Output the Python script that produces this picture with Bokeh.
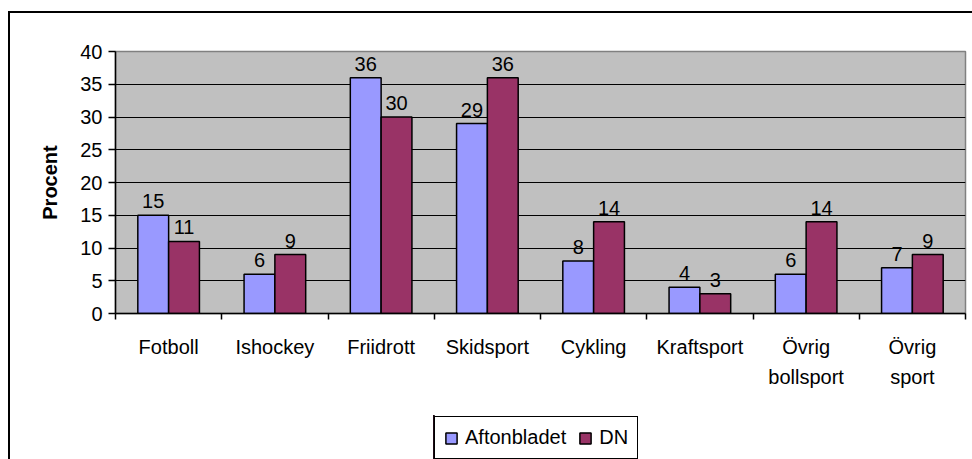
from bokeh.plotting import figure
from bokeh.layouts import column
from bokeh.models import ColumnDataSource, FixedTicker, LabelSet, Legend, LegendItem, Range1d
from bokeh.core.properties import value
from bokeh.transform import dodge
from bokeh.embed import file_html
from bokeh.resources import INLINE

categories = ["Fotboll", "Ishockey", "Friidrott", "Skidsport", "Cykling",
              "Kraftsport", "Övrig\nbollsport", "Övrig\nsport"]
aftonbladet = [15, 6, 36, 29, 8, 4, 6, 7]
dn = [11, 9, 30, 36, 14, 3, 14, 9]
series_names = ["Aftonbladet", "DN"]
y_ticks = [0, 5, 10, 15, 20, 25, 30, 35, 40]
y_label = "Procent"

FONT = "Liberation Sans"
COLORS = ["#9999FF", "#993366"]
pos = [i + 0.5 for i in range(len(categories))]
boundaries = list(range(len(categories) + 1))

src = ColumnDataSource(dict(
    x=pos, a=aftonbladet, d=dn,
    a_lbl=[str(v) for v in aftonbladet], d_lbl=[str(v) for v in dn],
))

p = figure(width=962, height=402,
           x_range=Range1d(0, len(categories)), y_range=Range1d(y_ticks[0], y_ticks[-1]),
           output_backend="svg", toolbar_location=None,
           min_border_left=105, min_border_right=7, min_border_top=38, min_border_bottom=102)

p.background_fill_color = "#C0C0C0"
p.border_fill_color = "white"
p.outline_line_color = "#808080"
p.outline_line_width = 1.5
p.xgrid.visible = False
p.ygrid.ticker = FixedTicker(ticks=y_ticks[1:-1])
p.ygrid.grid_line_color = "black"
p.ygrid.grid_line_width = 1.2

ya = p.yaxis[0]
ya.ticker = FixedTicker(ticks=y_ticks)
ya.major_tick_out = 7
ya.major_tick_in = 0
ya.minor_tick_out = 0
ya.minor_tick_in = 0
ya.axis_line_width = 1.5
ya.major_tick_line_width = 1.5
ya.major_label_text_font = FONT
ya.major_label_text_font_size = "20px"
ya.major_label_text_color = "black"
ya.major_label_standoff = 6
ya.axis_label = y_label
ya.axis_label_text_font = FONT
ya.axis_label_text_font_style = "bold"
ya.axis_label_text_font_size = "20px"
ya.axis_label_text_color = "black"
ya.axis_label_standoff = 16

xa = p.xaxis[0]
xa.ticker = FixedTicker(ticks=pos, minor_ticks=boundaries)
xa.major_tick_out = 0
xa.major_tick_in = 0
xa.minor_tick_out = 6
xa.minor_tick_in = 0
xa.minor_tick_line_width = 1.5
xa.axis_line_width = 1.5
xa.major_label_overrides = {x: c for x, c in zip(pos, categories)}
xa.major_label_text_font = FONT
xa.major_label_text_font_size = "20px"
xa.major_label_text_color = "black"
xa.major_label_text_line_height = 1.37
xa.major_label_standoff = 16

r1 = p.vbar(x=dodge("x", -0.145), top="a", width=0.29, source=src,
            fill_color=COLORS[0], line_color="black", line_width=1.5)
r2 = p.vbar(x=dodge("x", 0.145), top="d", width=0.29, source=src,
            fill_color=COLORS[1], line_color="black", line_width=1.5)

for off, col, lbl in [(-0.145, "a", "a_lbl"), (0.145, "d", "d_lbl")]:
    p.add_layout(LabelSet(x=dodge("x", off), y=col, text=lbl, source=src,
                          text_align="center", text_baseline="alphabetic", y_offset=7,
                          text_font=value(FONT), text_font_size=value("20px"),
                          text_color="black"))

# legend lives in a small figure of its own, placed below the chart
# (the column aligns its frame with the main frame: 105px left, 7px right borders)
lf = figure(width=105 + 206 + 7, height=44, x_range=Range1d(100, 101), y_range=Range1d(0, 1),
            output_backend="svg", toolbar_location=None,
            x_axis_location=None, y_axis_location=None,
            min_border_left=105, min_border_right=7,
            min_border_top=0, min_border_bottom=0)
lf.outline_line_color = None
lf.border_fill_alpha = 0
lf.background_fill_alpha = 0
lf.grid.visible = False
lf.styles = {"transform": "translate(318px, 0px)"}
l1 = lf.vbar(x="x", top="a", width=0.29, source=src,
             fill_color=COLORS[0], line_color="black", line_width=1.5)
l2 = lf.vbar(x="x", top="d", width=0.29, source=src,
             fill_color=COLORS[1], line_color="black", line_width=1.5)
legend = Legend(items=[LegendItem(label=series_names[0], renderers=[l1]),
                       LegendItem(label=series_names[1], renderers=[l2])],
                location="top_left", orientation="horizontal",
                border_line_color="black", border_line_width=1.5, border_line_alpha=1,
                background_fill_color="white", background_fill_alpha=1,
                label_text_font=FONT, label_text_font_size="20px", label_text_color="black",
                glyph_width=14, glyph_height=14, label_standoff=7,
                spacing=12, padding=9, margin=1)
lf.add_layout(legend, "center")

layout = column(p, lf, spacing=0)
layout.styles = {"border-left": "2px solid black", "border-top": "2px solid black",
                 "transform": "translate(8px, 11px)"}

open("out.html", "w").write(file_html(layout, INLINE))
